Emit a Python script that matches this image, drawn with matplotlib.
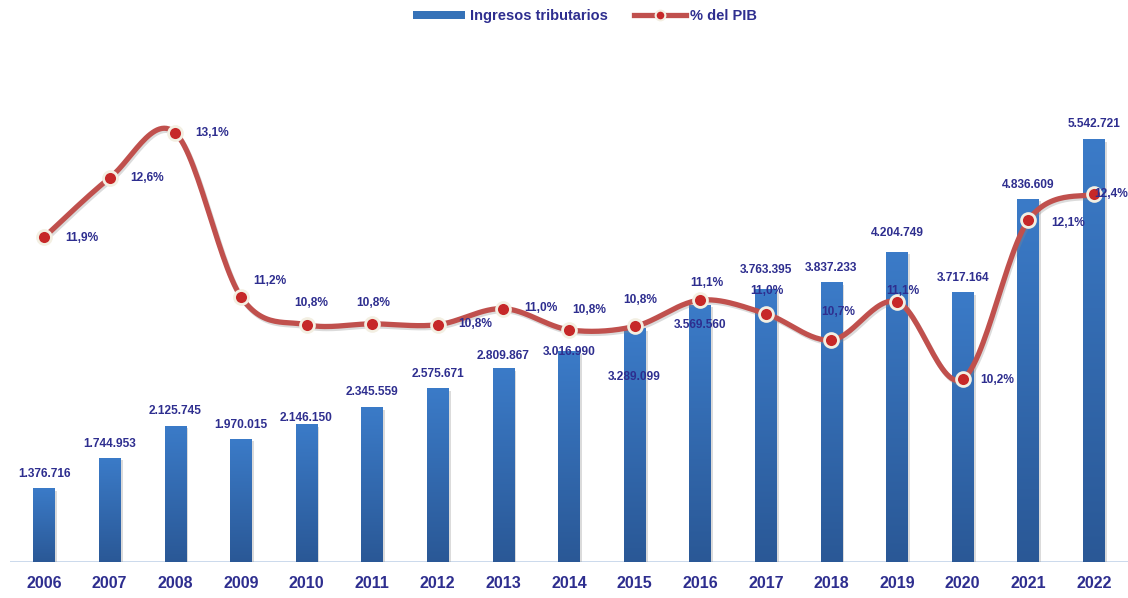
import numpy as np
import matplotlib
matplotlib.use("Agg")
import matplotlib.pyplot as plt
from matplotlib.colors import LinearSegmentedColormap
from matplotlib.patches import Patch
from matplotlib.lines import Line2D
import matplotlib.patheffects as pe

plt.rcParams['font.family'] = ['Liberation Sans', 'DejaVu Sans']

years = ["2006", "2007", "2008", "2009", "2010", "2011", "2012", "2013", "2014",
         "2015", "2016", "2017", "2018", "2019", "2020", "2021", "2022"]
ingresos = [1376716, 1744953, 2125745, 1970015, 2146150, 2345559, 2575671, 2809867,
            3016990, 3289099, 3569560, 3763395, 3837233, 4204749, 3717164, 4836609, 5542721]
pct_pib = [11.87, 12.57, 13.10, 11.17, 10.84, 10.85, 10.84, 11.03, 10.78,
           10.82, 11.13, 10.97, 10.66, 11.11, 10.20, 12.07, 12.38]

# label offsets in pixels (dx, dy), screen y up positive
bar_lbl_dy = [15, 14, 15, 14, 7, 16, 14.5, 13, 0, -48, -20, 19, 15, 19, 15, 14, 16]
pct_lbl_off = [(38, -1), (37, 0), (37, 0), (29, 16), (5, 22), (1, 21), (37, 1), (38, 1),
               (20, 20), (6, 26), (7, 17), (1, 23), (7, 28), (6, 11), (35, -1), (40, -3), (17, 0)]

NAVY = '#2e2e8f'
RED_LINE = '#c0504d'
RED_MK = '#c62828'

fig = plt.figure(figsize=(11.28, 5.98), dpi=100)
ax1 = fig.add_axes([10/1128, 1 - 562/598, 1118/1128, 522/598])
ax2 = ax1.twinx()

x = np.arange(len(years))
w = 0.33
cmap = LinearSegmentedColormap.from_list('g', ['#2a5896', '#3b7bc8'])
grad = np.linspace(0, 1, 256).reshape(-1, 1)
ymin1, ymax1 = 505000, 6736000

bars = ax1.bar(x, np.array(ingresos) - ymin1, bottom=ymin1, width=w, color='#3572b8', zorder=2,
               path_effects=[pe.SimplePatchShadow(offset=(1.5, -1.5), shadow_rgbFace='#999999', alpha=0.35), pe.Normal()])
for xi, v in zip(x, ingresos):
    ax1.imshow(grad, extent=[xi - w/2, xi + w/2, ymin1, v], origin='lower', aspect='auto', cmap=cmap, zorder=3)

ax1.set_xlim(-0.52, 16.52)
ax1.set_ylim(ymin1, ymax1)
ax2.set_ylim(8.043, 14.196)

# smooth line (Catmull-Rom / Bezier like spreadsheet smoothing)
px = x.astype(float)
py = np.array(pct_pib)
sx, sy = [], []
n = len(px)
for i in range(n - 1):
    p0 = (px[max(i-1, 0)], py[max(i-1, 0)])
    p1 = (px[i], py[i])
    p2 = (px[i+1], py[i+1])
    p3 = (px[min(i+2, n-1)], py[min(i+2, n-1)])
    c1 = (p1[0] + (p2[0]-p0[0])/6, p1[1] + (p2[1]-p0[1])/6)
    c2 = (p2[0] - (p3[0]-p1[0])/6, p2[1] - (p3[1]-p1[1])/6)
    t = np.linspace(0, 1, 30)
    bx = (1-t)**3*p1[0] + 3*(1-t)**2*t*c1[0] + 3*(1-t)*t**2*c2[0] + t**3*p2[0]
    by = (1-t)**3*p1[1] + 3*(1-t)**2*t*c1[1] + 3*(1-t)*t**2*c2[1] + t**3*p2[1]
    sx.extend(bx); sy.extend(by)
ax2.plot(sx, sy, color=RED_LINE, lw=3.8, solid_capstyle='round', zorder=4,
         path_effects=[pe.SimpleLineShadow(offset=(1, -1.5), shadow_color='#888888', alpha=0.3), pe.Normal()])
ax2.plot(px, py, ls='none', marker='o', markersize=10, markerfacecolor=RED_MK,
         markeredgecolor='#f3efe2', markeredgewidth=2, zorder=5)

for xi, v, dy in zip(x, ingresos, bar_lbl_dy):
    lbl = f"{v:,}".replace(",", ".")
    ax2.annotate(lbl, xy=(xi, v), xycoords=ax1.transData, xytext=(0, dy * 0.72),
                 textcoords='offset points', ha='center', va='center', fontsize=8.6,
                 fontweight='bold', color=NAVY, zorder=6)
for xi, v, (dx, dy) in zip(x, pct_pib, pct_lbl_off):
    lbl = f"{v:.1f}".replace(".", ",") + "%"
    ax2.annotate(lbl, xy=(xi, v), xycoords='data', xytext=(dx * 0.72, dy * 0.72),
                 textcoords='offset points', ha='center', va='center', fontsize=8.6,
                 fontweight='bold', color=NAVY, zorder=6)

for ax in (ax1, ax2):
    for s in ['top', 'right', 'left']:
        ax.spines[s].set_visible(False)
    ax.spines['bottom'].set_visible(False)
    ax.set_yticks([])
ax1.axhline(ymin1, color='#c6d6ea', lw=2, zorder=1)
ax1.set_xticks(x)
ax1.set_xticklabels(years, fontsize=11.5, fontweight='bold', color=NAVY)
ax1.tick_params(axis='x', length=0, pad=10)
ax2.tick_params(axis='x', length=0)

handles = [Patch(facecolor='#3572b8', edgecolor='none'),
           Line2D([0], [0], color=RED_LINE, lw=3.8, marker='o', markersize=7,
                  markerfacecolor=RED_MK, markeredgecolor='#f3efe2', markeredgewidth=1.5)]
leg = fig.legend(handles, ['Ingresos tributarios', '% del PIB'], loc='center',
                 bbox_to_anchor=(585/1128, 1 - 16/598), ncol=2, frameon=False,
                 prop={'weight': 'bold', 'size': 10.5}, handlelength=3.6, handleheight=0.45,
                 columnspacing=1.8, handletextpad=0.3)
for t in leg.get_texts():
    t.set_color(NAVY)

fig.savefig('out.png', dpi=100)
